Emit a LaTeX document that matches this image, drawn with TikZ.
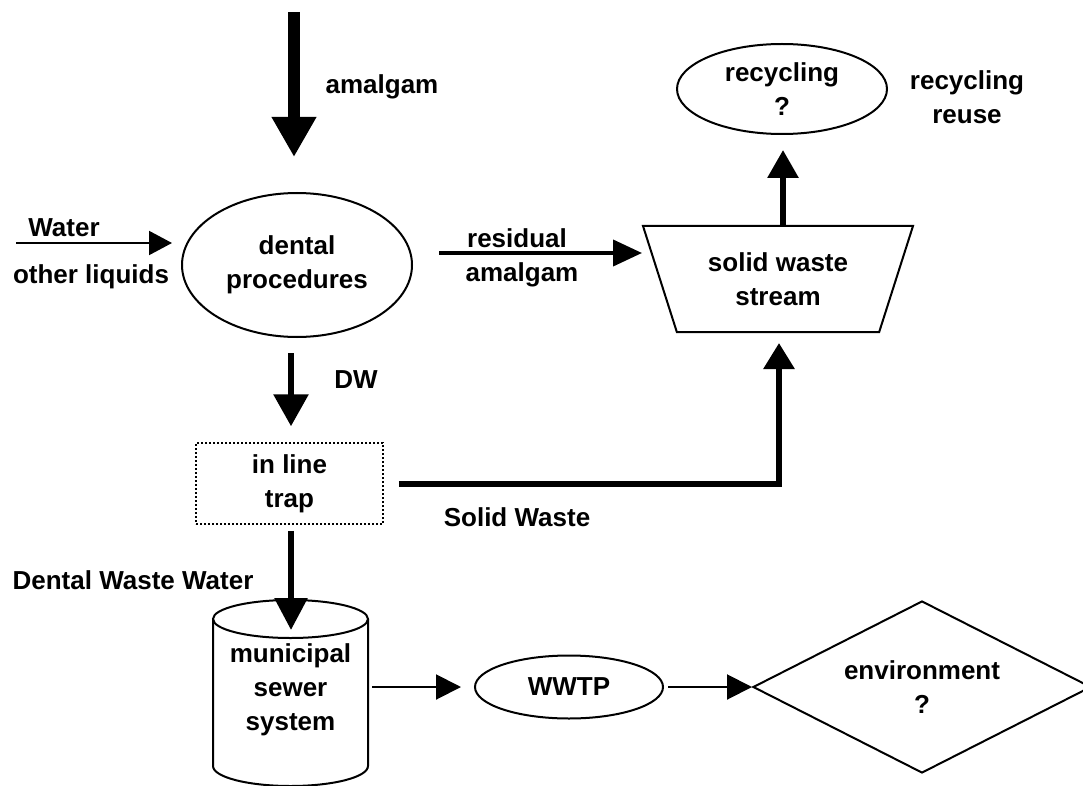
\documentclass[tikz,border=0pt]{standalone}
\usepackage{fontspec}
\setmainfont{Liberation Sans}
\usetikzlibrary{shapes.geometric, arrows.meta, calc, positioning}
\newcommand{\flowfont}{\fontsize{26}{34}\selectfont\bfseries}
\tikzset{
	box/.style={draw, line width=2pt, inner sep=0pt},
	headtip/.style 2 args={-{Triangle[length=#1pt, width=#2pt]}},
}

\begin{document}
\begin{tikzpicture}[x=1pt, y=-1pt, every node/.style={font=\flowfont, align=center}]
	\useasboundingbox (0,0) rectangle (1083,786);
	\node[box, ellipse, minimum width=230pt, minimum height=144pt] (dental) at (297,265) {dental\\procedures};
	\node[box, ellipse, minimum width=210pt, minimum height=90pt] (recyc) at (782,89) {\raisebox{-5pt}{recycling}\\\raisebox{-5pt}{?}};
	\node[box, trapezium, trapezium left angle=57.5, trapezium right angle=57.5, shape border rotate=180, trapezium stretches body, minimum width=270pt, minimum height=106pt] (sws) at (778,279) {solid waste\\stream};
	\node[box, dash pattern=on 2pt off 2pt, line width=1.5pt, minimum width=187pt, minimum height=81pt] (trap) at (289.5,483.5) {in line\\trap};
	\node[box, ellipse, minimum width=188pt, minimum height=63pt] (wwtp) at (569,687) {WWTP};
	\node[box, diamond, aspect=2, minimum width=338pt, minimum height=172pt] (env) at (922,687) {environment\\?};
	\draw[line width=2pt] (213,619) -- (213,766) arc[start angle=180, end angle=0, x radius=77.5, y radius=20] -- (368,619);
	\draw[line width=2pt] (290.5,619) ellipse[x radius=77.5, y radius=19];
	\node (sewer) at (290.5,690) {municipal\\sewer\\system};
	\coordinate (amalIn) at (294,12);
	\coordinate (waterIn) at (16,243);
	\coordinate (sewerIn) at (291,630);
	\coordinate (sewerOut) at (372,687);
	\draw[line width=12pt, headtip={40}{42}, shorten >=35pt] (amalIn) -- (amalIn |- dental.north);
	\draw[line width=2pt, headtip={23}{24}, shorten >=9pt] (waterIn) -- (waterIn -| dental.west);
	\draw[line width=4pt, headtip={29}{26}] ($(dental.east)+(26,-12)$) -- ($(sws.center)+(-136,-26)$);
	\draw[line width=6pt, headtip={28}{30}] ($(sws.center)+(5,-53)$) -- ($(recyc.south)+(1,15)$);
	\draw[line width=6pt, headtip={32}{34}] ($(dental.south)+(-6,15)$) -- ($(trap.north)+(1.5,-16)$);
	\draw[line width=6pt, headtip={26}{30}] ($(trap.east)+(15,0)$) -| ($(sws.center)+(1,64)$);
	\draw[line width=6pt, headtip={32}{32}] ($(trap.south)+(1.5,6)$) -- (sewerIn);
	\draw[line width=2pt, headtip={25}{25}, shorten >=13pt] (sewerOut) -- (sewerOut -| wwtp.west);
	\draw[line width=2pt, headtip={25}{25}, shorten <=4pt] (wwtp.east) -- (wwtp.east -| env.west);
	\node (amalLbl) at (382,87) {amalgam};
	\node (waterLbl) at (64,228) {Water};
	\node (liquidLbl) at (91,277) {other liquids};
	\node (residLbl) at (517,238) {residual};
	\node (residLbl2) at (522,275) {amalgam};
	\node (reuseLbl) at (967,97) {recycling\\reuse};
	\node (dwLbl) at (356,380) {DW};
	\node (solidLbl) at (517,517) {Solid Waste};
	\node (dwwLbl) at (133,580) {Dental Waste Water};
\end{tikzpicture}
\end{document}
